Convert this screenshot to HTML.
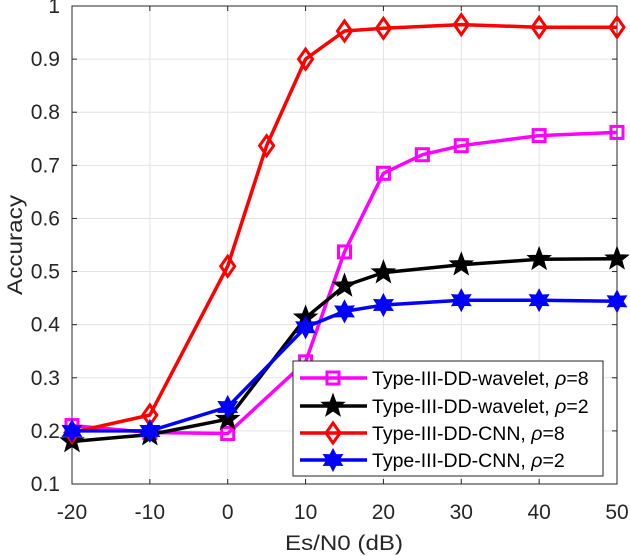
<!DOCTYPE html>
<html><head><meta charset="utf-8"><style>
html,body{margin:0;padding:0;background:#fff;}
svg{display:block;font-family:"Liberation Sans",Arial,sans-serif;}
</style></head><body>
<svg id="chart" width="630" height="556" viewBox="0 0 630 556">
<g id="grid"></g>
<g id="axes"></g>
<g id="series"></g>
<text x="22" y="245" transform="rotate(-90 22 245)" text-anchor="middle" font-size="21" textLength="100" lengthAdjust="spacingAndGlyphs" fill="#262626">Accuracy</text>
<text x="344" y="550" text-anchor="middle" font-size="21" textLength="118" lengthAdjust="spacingAndGlyphs" fill="#262626">Es/N0 (dB)</text>
<g id="legend"></g>
</svg>
<script>
const xTicks = [-20,-10,0,10,20,30,40,50];
const yTicks = [0.1,0.2,0.3,0.4,0.5,0.6,0.7,0.8,0.9,1];
const yTickLabels = ["0.1","0.2","0.3","0.4","0.5","0.6","0.7","0.8","0.9","1"];
const waveletRho8X = [-20,-10,0,10,15,20,25,30,40,50];
const waveletRho8Y = [0.21,0.197,0.195,0.33,0.537,0.685,0.72,0.737,0.756,0.762];
const waveletRho2X = [-20,-10,0,10,15,20,30,40,50];
const waveletRho2Y = [0.18,0.193,0.222,0.413,0.473,0.498,0.513,0.523,0.524];
const cnnRho8X = [-20,-10,0,5,10,15,20,30,40,50];
const cnnRho8Y = [0.197,0.23,0.51,0.737,0.90,0.953,0.958,0.965,0.96,0.96];
const cnnRho2X = [-20,-10,0,10,15,20,30,40,50];
const cnnRho2Y = [0.2,0.2,0.245,0.395,0.425,0.437,0.446,0.446,0.444];
const legendLabels = ["Type-III-DD-wavelet, ","Type-III-DD-wavelet, ","Type-III-DD-CNN, ","Type-III-DD-CNN, "];
const legendRho = ["8","2","8","2"];

const L=72,R=617,T=6,B=484;
const xs=v=>L+(v+20)/70*(R-L);
const ys=v=>B-(v-0.1)/0.9*(B-T);
const NS="http://www.w3.org/2000/svg";
function mk(tag,attrs,parent){const e=document.createElementNS(NS,tag);for(const k in attrs)e.setAttribute(k,attrs[k]);parent.appendChild(e);return e;}
const grid=document.getElementById('grid'),axes=document.getElementById('axes'),ser=document.getElementById('series'),leg=document.getElementById('legend');
xTicks.forEach(t=>{
  const g=mk('line',{x1:xs(t),x2:xs(t),y1:T,y2:B,stroke:'#e3e3e3','stroke-width':1},grid);
  
  
  mk('line',{x1:xs(t),x2:xs(t),y1:B,y2:B-5,stroke:'#262626'},axes);
  mk('line',{x1:xs(t),x2:xs(t),y1:T,y2:T+5,stroke:'#262626'},axes);
  const tx=mk('text',{x:xs(t),y:519,'text-anchor':'middle','font-size':21,fill:'#262626'},axes);
  tx.textContent=t;
  
  
});
yTicks.forEach((t,i)=>{
  const g=mk('line',{x1:L,x2:R,y1:ys(t),y2:ys(t),stroke:'#e3e3e3','stroke-width':1},grid);
  
  
  mk('line',{x1:L,x2:L+5,y1:ys(t),y2:ys(t),stroke:'#262626'},axes);
  mk('line',{x1:R,x2:R-5,y1:ys(t),y2:ys(t),stroke:'#262626'},axes);
  const tx=mk('text',{x:60,y:ys(t)+7,'text-anchor':'end','font-size':21,fill:'#262626'},axes);
  tx.textContent=yTickLabels[i];
  
  
});
mk('rect',{x:L,y:T,width:R-L,height:B-T,fill:'none',stroke:'#262626','stroke-width':1},axes);

function starPts(cx,cy,n,ro,ri){let p=[];for(let i=0;i<2*n;i++){const a=-Math.PI/2+i*Math.PI/n;const r=i%2?ri:ro;p.push((cx+r*Math.cos(a)).toFixed(1)+','+(cy+r*Math.sin(a)).toFixed(1));}return p.join(' ');}
function marker(type,cx,cy,color,parent){
  let m;
  if(type==='square') m=mk('rect',{x:cx-6,y:cy-6,width:12,height:12,fill:'none',stroke:color,'stroke-width':3},parent);
  else if(type==='star5') m=mk('polygon',{points:starPts(cx,cy,5,12,5),fill:color,stroke:color,'stroke-width':1},parent);
  else if(type==='diamond') m=mk('polygon',{points:`${cx},${cy-10} ${cx+7},${cy} ${cx},${cy+10} ${cx-7},${cy}`,fill:'none',stroke:color,'stroke-width':3},parent);
  else m=mk('polygon',{points:starPts(cx,cy,6,11,6),fill:color,stroke:color,'stroke-width':1},parent);
  
  
}
const series=[
  {x:waveletRho8X,y:waveletRho8Y,c:'#ff00ff',m:'square',n:'wavelet-rho8-line'},
  {x:waveletRho2X,y:waveletRho2Y,c:'#000000',m:'star5',n:'wavelet-rho2-line'},
  {x:cnnRho8X,y:cnnRho8Y,c:'#ff0000',m:'diamond',n:'cnn-rho8-line'},
  {x:cnnRho2X,y:cnnRho2Y,c:'#0000ff',m:'star6',n:'cnn-rho2-line'}];
series.forEach(s=>{
  const g=mk('g',{},ser);
  const pts=s.x.map((v,i)=>xs(v).toFixed(1)+','+ys(s.y[i]).toFixed(1)).join(' ');
  const pl=mk('polyline',{points:pts,fill:'none',stroke:s.c,'stroke-width':3.5,'stroke-linejoin':'round'},g);
  
  
  s.x.forEach((v,i)=>marker(s.m,xs(v),ys(s.y[i]),s.c,g));
});
const lb=mk('rect',{x:293,y:361,width:310,height:115,fill:'#fff',stroke:'#262626','stroke-width':1},leg);


const ly=[378,406,433,460];
series.forEach((s,i)=>{
  const g=mk('g',{},leg);
  
  
  mk('line',{x1:300,x2:367,y1:ly[i],y2:ly[i],stroke:s.c,'stroke-width':3.5},g);
  marker(s.m,333,ly[i],s.c,g);
  const t=mk('text',{x:372,y:ly[i]+7,'font-size':19.5,fill:'#000'},g);
  t.textContent=legendLabels[i];
  const ts=mk('tspan',{'font-style':'italic'},t);ts.textContent='ρ';
  const ts2=mk('tspan',{},t);ts2.textContent='='+legendRho[i];
});
</script>
</body></html>
